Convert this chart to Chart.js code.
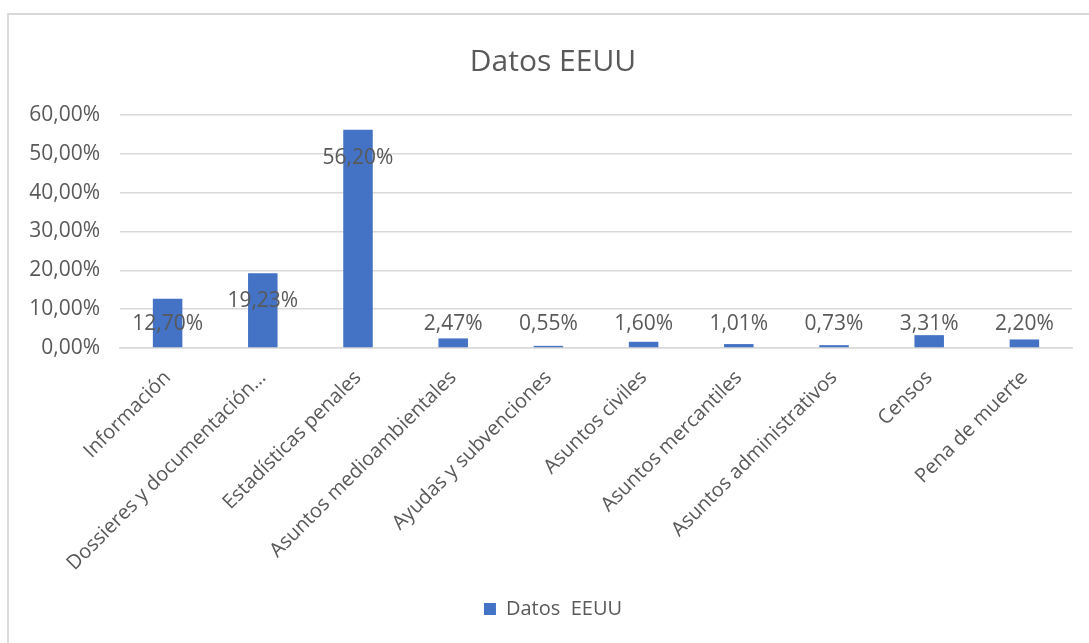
<!DOCTYPE html>
<html>
<head>
<meta charset="utf-8">
<script src="https://cdn.jsdelivr.net/npm/chart.js@4.4.1/dist/chart.umd.min.js"></script>
<style>
    html, body { margin: 0; padding: 0; background: #ffffff; overflow: hidden; }
    #marco {
        position: absolute; left: 7px; top: 13px; width: 1200px; height: 800px;
        border-left: 2px solid #d9d9d9; border-top: 2px solid #d9d9d9;
    }
    #wrap { position: absolute; left: 0; top: 0; width: 1089px; height: 643px; }
</style>
</head>
<body>
<div id="marco"></div>
<div id="wrap"><canvas id="chartEEUU"></canvas></div>
<script>
// Datos del gráfico
const categorias = [
    'Información',
    'Dossieres y documentación…',
    'Estadísticas penales',
    'Asuntos medioambientales',
    'Ayudas y subvenciones',
    'Asuntos civiles',
    'Asuntos mercantiles',
    'Asuntos administrativos',
    'Censos',
    'Pena de muerte'
];
const valores = [12.70, 19.23, 56.20, 2.47, 0.55, 1.60, 1.01, 0.73, 3.31, 2.20];
const etiquetasY = ['0,00%', '10,00%', '20,00%', '30,00%', '40,00%', '50,00%', '60,00%'];
const nombreSerie = 'Datos  EEUU';
const titulo = 'Datos EEUU';

const fuente = "'Open Sans', 'Noto Sans', sans-serif";
const gris = '#595959';
const azul = '#4472C4';

function formato(v) {
    return v.toFixed(2).replace('.', ',') + '%';
}

// Etiquetas de datos al estilo Excel
const etiquetasDatos = {
    id: 'etiquetasDatos',
    afterDatasetsDraw(chart) {
        const ctx = chart.ctx;
        const meta = chart.getDatasetMeta(0);
        const base = chart.scales.y.getPixelForValue(0);
        ctx.save();
        ctx.font = '21px ' + fuente;
        ctx.fillStyle = gris;
        ctx.textAlign = 'center';
        ctx.textBaseline = 'middle';
        meta.data.forEach((bar, i) => {
            const y = Math.min(bar.y + 28, base - 24);
            ctx.fillText(formato(valores[i]), bar.x, y);
        });
        ctx.restore();
    }
};

new Chart(document.getElementById('chartEEUU'), {
    type: 'bar',
    data: {
        labels: categorias,
        datasets: [{
            label: nombreSerie,
            data: valores,
            backgroundColor: azul,
            barPercentage: 0.31,
            categoryPercentage: 1
        }]
    },
    options: {
        responsive: true,
        maintainAspectRatio: false,
        animation: false,
        layout: { padding: { left: 22, right: 5, top: 0, bottom: 14 } },
        plugins: {
            title: {
                display: true,
                text: titulo,
                color: gris,
                font: { family: fuente, size: 30, weight: 'normal' },
                padding: { top: 44, bottom: 35 }
            },
            legend: {
                position: 'bottom',
                labels: {
                    color: gris,
                    font: { family: fuente, size: 20 },
                    boxWidth: 12,
                    boxHeight: 12,
                    padding: 10
                }
            },
            tooltip: { enabled: false }
        },
        scales: {
            y: {
                min: 0,
                max: 60,
                ticks: {
                    stepSize: 10,
                    color: gris,
                    padding: 20,
                    font: { family: fuente, size: 21 },
                    callback: (v, i) => etiquetasY[i]
                },
                grid: { color: '#d9d9d9', lineWidth: 1.5, drawTicks: false },
                border: { display: false },
                afterFit: s => { s.width = 98; }
            },
            margen: {
                position: 'right',
                display: true,
                ticks: { display: false },
                grid: { display: false, drawTicks: false },
                border: { display: false },
                afterFit: s => { s.width = 12; }
            },
            x: {
                ticks: {
                    color: gris,
                    minRotation: 45,
                    maxRotation: 45,
                    padding: 18,
                    autoSkip: false,
                    font: { family: fuente, size: 20 }
                },
                grid: { display: false, drawTicks: false },
                border: { color: '#d9d9d9', width: 1.5 },
                afterFit: s => { s.height = 241; }
            }
        }
    },
    plugins: [etiquetasDatos]
});
</script>
</body>
</html>
